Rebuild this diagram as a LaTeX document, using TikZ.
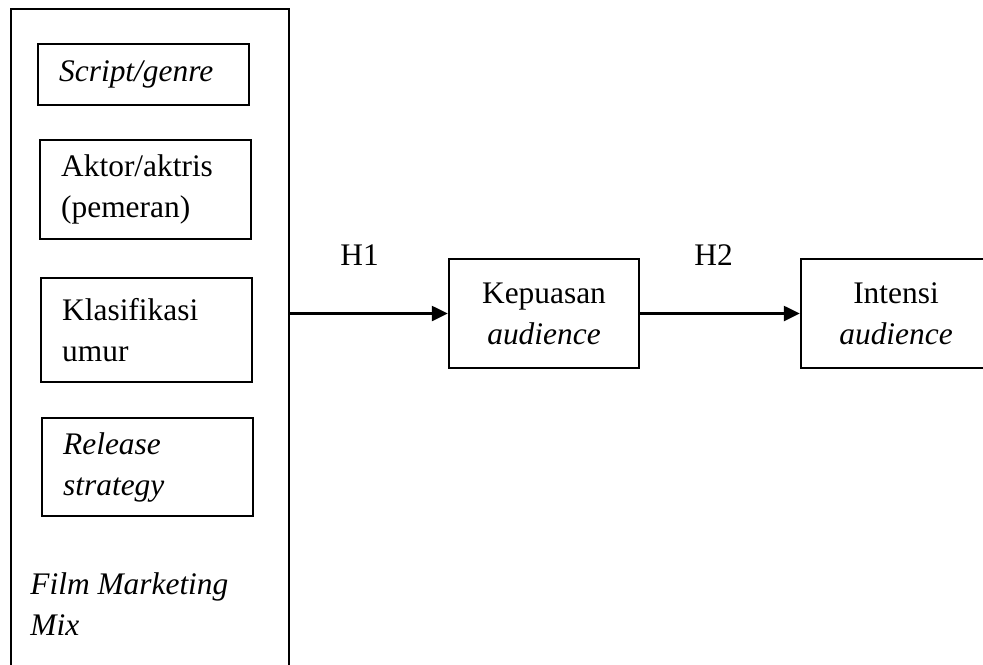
\documentclass[tikz,border=0pt]{standalone}
\usepackage{fontspec}
\setmainfont{Liberation Serif}
\usetikzlibrary{arrows.meta, positioning}

\begin{document}
\begin{tikzpicture}[x=0.5pt, y=-0.5pt,
  factor/.style={draw, line width=1.2pt, anchor=north west, minimum width=105.5pt,
                 text width=84.5pt, inner xsep=10.5pt, inner ysep=0pt, align=left,
                 font=\fontsize{15.7}{20.5}\selectfont},
  var/.style={draw, line width=1.2pt, minimum width=95pt, minimum height=54.5pt,
              align=center, font=\fontsize{15.7}{20.5}\selectfont},
  flow/.style={-{Triangle[length=8pt,width=7.5pt]}, line width=1.2pt}]
  \useasboundingbox (0,0) rectangle (983,664);
  \clip (0,0) rectangle (983,664);
  % outer frame (runs past the bottom edge)
  \node[draw, line width=1.2pt, anchor=north west, minimum width=139pt,
        minimum height=360pt, inner sep=0pt] (fmm) at (10,8) {};
  \node[factor, minimum height=30.5pt] (script) at (37,43)  {\textit{Script/genre}};
  \node[factor, minimum height=49.5pt] (aktor)  at (39,139) {Aktor/aktris\\(pemeran)};
  \node[factor, minimum height=52pt]   (umur)   at (40,277) {Klasifikasi\\umur};
  \node[factor, minimum height=49pt]   (rilis)  at (41,417) {\textit{Release}\\\textit{strategy}};
  \node[anchor=north west, inner sep=0pt, align=left,
        font=\fontsize{15.7}{20.5}\selectfont\itshape] (fmmlabel) at (30,572)
        {Film Marketing\\Mix};
  \node[var] (kep) at (544,313.5) {Kepuasan\\\textit{audience}};
  \node[var] (int) at (896,313.5) {Intensi\\\textit{audience}};
  \draw[flow] (fmm.east |- kep.west) -- (kep.west)
    node[pos=0.44, above=23.5pt, inner sep=0pt, font=\fontsize{15.7}{20.5}\selectfont] (h1) {H1};
  \draw[flow] (kep.east) -- (int.west)
    node[pos=0.46, above=23.5pt, inner sep=0pt, font=\fontsize{15.7}{20.5}\selectfont] (h2) {H2};
\end{tikzpicture}
\end{document}
